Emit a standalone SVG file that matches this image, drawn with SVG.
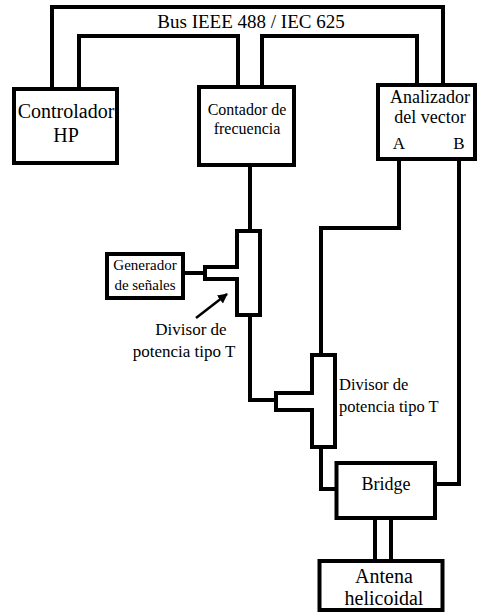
<svg xmlns="http://www.w3.org/2000/svg" width="477" height="613" viewBox="0 0 477 613">
<defs>
<style>
.box{fill:#fff;stroke:#000;stroke-width:4}
.ln{fill:none;stroke:#000;stroke-width:4}
text{font-family:'Liberation Serif','DejaVu Serif',serif;fill:#000}
.t{text-anchor:middle}
</style>
<marker id="ah" viewBox="0 0 10 10" refX="9" refY="5" markerWidth="4" markerHeight="4" orient="auto" markerUnits="strokeWidth">
<path d="M0,0 L10,5 L0,10 Z" fill="#000"/>
</marker>
</defs>
<rect width="477" height="613" fill="#fff"/>
<g id="connectors">
<path class="ln" d="M52,89 V7 H443 V85"/>
<path class="ln" d="M79,89 V36 H238 V87"/>
<path class="ln" d="M262,87 V36 H417 V85"/>
<path class="ln" d="M250,165 V231"/>
<path class="ln" d="M183,273 H205"/>
<path class="ln" d="M250,315 V400 H276"/>
<path class="ln" d="M399,159 V228 H321 V355"/>
<path class="ln" d="M321,447 V489 H336"/>
<path class="ln" d="M459,159 V484 H435"/>
<path class="ln" d="M375,518 V561 M391,518 V561"/>
<line x1="196" y1="318" x2="227" y2="294" stroke="#000" stroke-width="2.5" marker-end="url(#ah)"/>
</g>
<g id="bus-label" font-family="Liberation Serif, DejaVu Serif, serif">
<text class="t" x="251" y="28" font-size="19">Bus IEEE 488 / IEC 625</text>
</g>
<g id="controlador" font-family="Liberation Serif, DejaVu Serif, serif">
<rect class="box" x="14" y="89" width="103" height="74"/>
<text class="t" x="66" y="118" font-size="20">Controlador</text>
<text class="t" x="66" y="142" font-size="20">HP</text>
</g>
<g id="contador" font-family="Liberation Serif, DejaVu Serif, serif">
<rect class="box" x="199" y="87" width="95" height="78"/>
<text class="t" x="247" y="115" font-size="16">Contador de</text>
<text class="t" x="247" y="134" font-size="16">frecuencia</text>
</g>
<g id="analizador" font-family="Liberation Serif, DejaVu Serif, serif">
<rect class="box" x="378" y="85" width="97" height="74"/>
<text class="t" x="430" y="103" font-size="18">Analizador</text>
<text class="t" x="430" y="123" font-size="18">del vector</text>
<text class="t" x="399" y="149" font-size="17">A</text>
<text class="t" x="459" y="149" font-size="17">B</text>
</g>
<g id="generador" font-family="Liberation Serif, DejaVu Serif, serif">
<rect class="box" x="107" y="254" width="76" height="44"/>
<text class="t" x="145" y="270" font-size="15">Generador</text>
<text class="t" x="145" y="290" font-size="15">de señales</text>
</g>
<g id="divisor1" font-family="Liberation Serif, DejaVu Serif, serif">
<path class="box" d="M237,231 H260 V315 H237 V279 H205 V267 H237 Z"/>
<text class="t" x="191" y="335" font-size="17">Divisor de</text>
<text class="t" x="184" y="357" font-size="17">potencia tipo T</text>
</g>
<g id="divisor2" font-family="Liberation Serif, DejaVu Serif, serif">
<path class="box" d="M312,355 H335 V447 H312 V410 H276 V393 H312 Z"/>
<text x="339" y="390" font-size="16.5">Divisor de</text>
<text x="339" y="412" font-size="16.5">potencia tipo T</text>
</g>
<g id="bridge" font-family="Liberation Serif, DejaVu Serif, serif">
<rect class="box" x="336.5" y="463" width="98.5" height="55"/>
<text class="t" x="386" y="490" font-size="18">Bridge</text>
</g>
<g id="antena" font-family="Liberation Serif, DejaVu Serif, serif">
<rect class="box" x="319.5" y="561" width="123" height="49"/>
<text class="t" x="384" y="583" font-size="20">Antena</text>
<text class="t" x="384" y="605" font-size="20">helicoidal</text>
</g>
</svg>
